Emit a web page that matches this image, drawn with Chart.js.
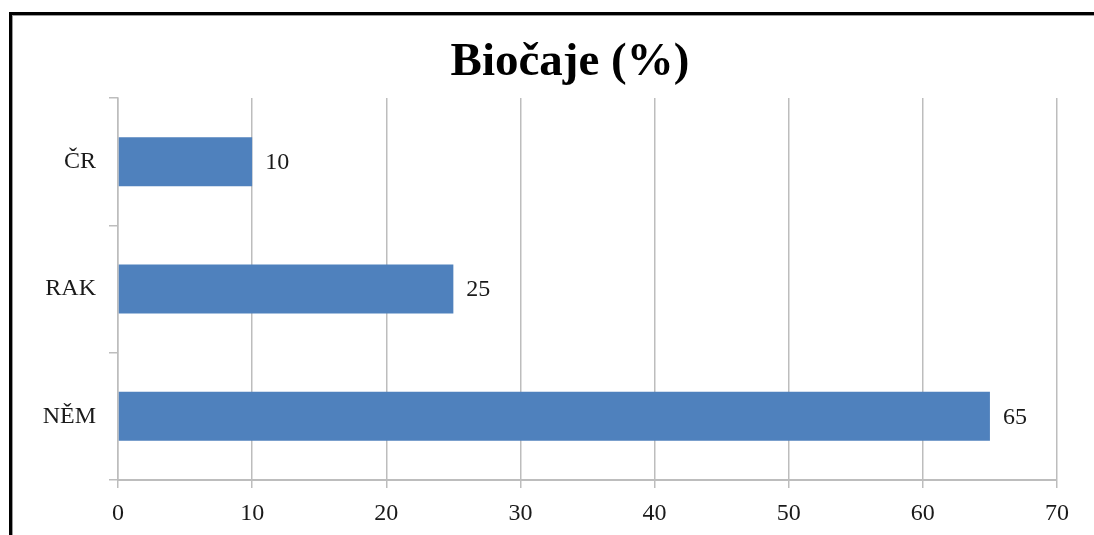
<!DOCTYPE html>
<html>
<head>
<meta charset="utf-8">
<script src="https://cdn.jsdelivr.net/npm/chart.js@4/dist/chart.umd.min.js"></script>
<style>
  html, body { margin: 0; padding: 0; background: #fff; overflow: hidden; }
  body { width: 1094px; height: 535px; position: relative; }
  #frame {
    position: absolute; left: 9px; top: 12px; width: 1200px; height: 600px;
    border-left: 3px solid #000; border-top: 3px solid #000;
    box-shadow: inset 1px 1px 0 #9a9a9a;
  }
  #c { position: absolute; left: 0; top: 0; }
</style>
</head>
<body>
<div id="frame"></div>
<canvas id="c" width="1140" height="535"></canvas>
<script>
// Podíl biočajů podle země (%)
const categories = ['ČR', 'RAK', 'NĚM'];
const values = [10, 25, 65];
const xTicks = [0, 10, 20, 30, 40, 50, 60, 70];
const titleText = 'Biočaje (%)';

const serif = '"Liberation Serif", "Times New Roman", serif';
const textColor = '#1a1a1a';
const gridColor = '#bdbdbd';
const labelSize = 24;

// Nadpis vystředěný na celý rámeček grafu (ne jen na kreslicí plochu)
const frameTitle = {
  id: 'frameTitle',
  afterDraw(chart) {
    const ctx = chart.ctx;
    ctx.save();
    ctx.font = 'bold 47px ' + serif;
    ctx.fillStyle = '#000';
    ctx.textAlign = 'center';
    ctx.textBaseline = 'alphabetic';
    ctx.fillText(titleText, chart.width / 2, 75);
    ctx.restore();
  }
};

// Hodnoty vypsané za koncem každého pruhu
const valueLabels = {
  id: 'valueLabels',
  afterDatasetsDraw(chart) {
    const ctx = chart.ctx;
    const meta = chart.getDatasetMeta(0);
    ctx.save();
    ctx.font = labelSize + 'px ' + serif;
    ctx.fillStyle = textColor;
    ctx.textAlign = 'left';
    ctx.textBaseline = 'middle';
    meta.data.forEach((bar, i) => {
      ctx.fillText(String(values[i]), bar.x + 13, bar.y + 1);
    });
    ctx.restore();
  }
};

new Chart(document.getElementById('c'), {
  type: 'bar',
  data: {
    labels: categories,
    datasets: [{
      data: values,
      backgroundColor: '#4f81bd',
      borderWidth: 0,
      categoryPercentage: 1,
      barPercentage: 0.385
    }]
  },
  options: {
    indexAxis: 'y',
    responsive: false,
    animation: false,
    devicePixelRatio: 1,
    layout: { padding: { left: 0, right: 83, top: 98, bottom: 0 } },
    plugins: {
      legend: { display: false },
      tooltip: { enabled: false },
      title: { display: false }
    },
    scales: {
      x: {
        min: 0,
        max: 70,
        afterBuildTicks(scale) { scale.ticks = xTicks.map(v => ({ value: v })); },
        afterFit(scale) { scale.height = 55; },
        grid: {
          color: gridColor,
          lineWidth: 1.5,
          drawTicks: true,
          tickLength: 8,
          tickColor: gridColor
        },
        border: { color: gridColor, width: 2 },
        ticks: {
          color: textColor,
          font: { family: serif, size: labelSize },
          padding: 11,
          maxRotation: 0
        }
      },
      y: {
        afterFit(scale) { scale.width = 118; },
        grid: {
          offset: true,
          drawOnChartArea: false,
          drawTicks: true,
          tickLength: 9,
          color: gridColor,
          lineWidth: 1.5
        },
        border: { color: gridColor, width: 1.5 },
        ticks: {
          color: textColor,
          font: { family: serif, size: labelSize },
          padding: 13
        }
      }
    }
  },
  plugins: [valueLabels, frameTitle]
});
</script>
</body>
</html>
